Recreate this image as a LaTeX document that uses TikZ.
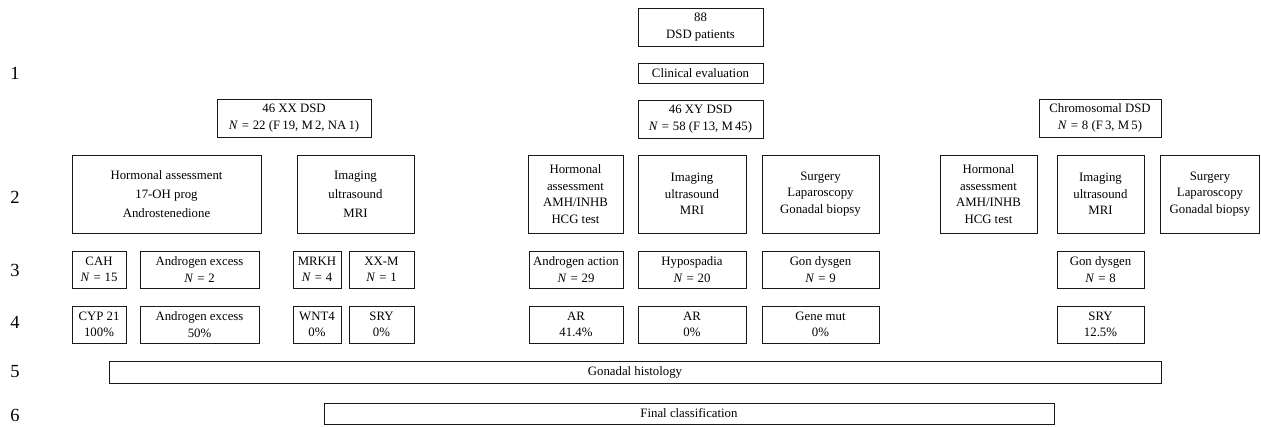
\documentclass[tikz,border=0pt]{standalone}
\usepackage{fontspec}
\setmainfont{Liberation Serif}
\newcommand{\eqsgn}{\hspace{0.3em}=\hspace{0.3em}}
\begin{document}
\begin{tikzpicture}[x=1pt,y=-1pt,
  box/.style={draw=black!90, line width=0.9pt, rectangle, inner sep=0pt, align=center,
    font=\fontsize{12.8}{16.5}\selectfont},
  rowlab/.style={inner sep=0pt, font=\fontsize{18.5}{20}\selectfont},
  r2/.style={box, minimum height=78pt},
  r3/.style={box, minimum height=37pt}]
\useasboundingbox (0,0) rectangle (1261,426);
% row labels
\node[rowlab] (l1) at (15,73) {1};
\node[rowlab] (l2) at (15,197) {2};
\node[rowlab] (l3) at (15,270) {3};
\node[rowlab] (l4) at (15,322) {4};
\node[rowlab] (l5) at (15,372) {5};
\node[rowlab] (l6) at (15,415) {6};
% top
\node[box, minimum width=125pt, minimum height=38pt] (n88) at (700.5,27) {88\\DSD patients};
\node[box, minimum width=125pt, minimum height=20pt] (clin) at (700.5,73) {Clinical evaluation};
\node[box, minimum width=154pt, minimum height=38pt] (xx) at (294,118) {46 XX DSD\\\textit{N}\eqsgn 22 (F\,19, M\,2, NA\,1)};
\node[box, minimum width=125pt, minimum height=38pt] (xy) at (700.5,119) {46 XY DSD\\\textit{N}\eqsgn 58 (F\,13, M\,45)};
\node[box, minimum width=122pt, minimum height=38pt] (chr) at (1100,118) {Chromosomal DSD\\\textit{N}\eqsgn 8 (F\,3, M\,5)};
% row 2
\node[r2, minimum width=189pt] (hormXX) at (166.5,194) {Hormonal assessment\\[2.5pt]17-OH prog\\[2.5pt]Androstenedione};
\node[r2, minimum width=117pt] (imgXX) at (355.5,194) {Imaging\\[2.5pt]ultrasound\\[2.5pt]MRI};
\node[r2, minimum width=95pt] (hormXY) at (575.5,194) {Hormonal\\assessment\\AMH/INHB\\HCG test};
\node[r2, minimum width=108pt] (imgXY) at (692,194) {Imaging\\ultrasound\\MRI};
\node[r2, minimum width=117pt] (surgXY) at (820.5,194) {Surgery\\Laparoscopy\\Gonadal biopsy};
\node[r2, minimum width=97pt] (hormCh) at (988.5,194) {Hormonal\\assessment\\AMH/INHB\\HCG test};
\node[r2, minimum width=87pt] (imgCh) at (1100.5,194) {Imaging\\ultrasound\\MRI};
\node[r2, minimum width=99pt] (surgCh) at (1210,194) {Surgery\\Laparoscopy\\Gonadal biopsy};
% row 3
\node[r3, minimum width=54pt] (cah) at (99,269.5) {CAH\\\textit{N}\eqsgn 15};
\node[r3, minimum width=119pt] (aex) at (199.5,269.5) {Androgen excess\\\textit{N}\eqsgn 2};
\node[r3, minimum width=48pt] (mrkh) at (317,269.5) {MRKH\\\textit{N}\eqsgn 4};
\node[r3, minimum width=65pt] (xxm) at (381.5,269.5) {XX-M\\\textit{N}\eqsgn 1};
\node[r3, minimum width=94pt] (aact) at (576,269.5) {Androgen action\\\textit{N}\eqsgn 29};
\node[r3, minimum width=108pt] (hypo) at (692,269.5) {Hypospadia\\\textit{N}\eqsgn 20};
\node[r3, minimum width=117pt] (gonxy) at (820.5,269.5) {Gon dysgen\\\textit{N}\eqsgn 9};
\node[r3, minimum width=87pt] (gonch) at (1100.5,269.5) {Gon dysgen\\\textit{N}\eqsgn 8};
% row 4
\node[r3, minimum width=54pt] (cyp) at (99,324.5) {CYP 21\\100\%};
\node[r3, minimum width=119pt] (aex50) at (199.5,324.5) {Androgen excess\\50\%};
\node[r3, minimum width=48pt] (wnt) at (317,324.5) {WNT4\\0\%};
\node[r3, minimum width=65pt] (sryxx) at (381.5,324.5) {SRY\\0\%};
\node[r3, minimum width=94pt] (ar41) at (576,324.5) {AR\\41.4\%};
\node[r3, minimum width=108pt] (ar0) at (692,324.5) {AR\\0\%};
\node[r3, minimum width=117pt] (gene) at (820.5,324.5) {Gene mut\\0\%};
\node[r3, minimum width=87pt] (srych) at (1100.5,324.5) {SRY\\12.5\%};
% rows 5, 6
\node[box, minimum width=1052pt, minimum height=22pt] (histo) at (635,372) {Gonadal histology};
\node[box, minimum width=730pt, minimum height=21pt] (final) at (689,413.5) {Final classification};
\end{tikzpicture}
\end{document}
